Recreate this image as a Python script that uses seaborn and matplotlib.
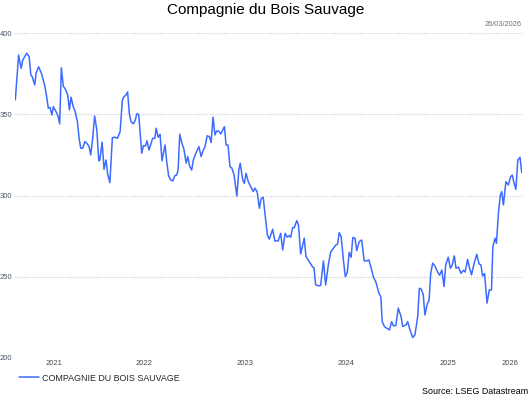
import pandas as pd
import numpy as np
import matplotlib.pyplot as plt
import matplotlib.dates as mdates
import seaborn as sns

# Données (jours depuis le 26/03/2021, cours)
START = "2021-03-26"
END = "2026-03-26"
jours = [0, 12, 21, 27, 41, 50, 56, 61, 70, 75, 84, 95, 107, 113, 119, 125, 132, 137, 147, 155,
         160, 166, 173, 182, 189, 195, 201, 209, 216, 224, 230, 236, 243, 251, 260, 266, 272, 279, 286, 294,
         301, 305, 313, 320, 327, 333, 341, 350, 360, 368, 378, 386, 392, 399, 405, 411, 417, 426, 432, 438,
         445, 450, 456, 462, 469, 475, 482, 489, 495, 503, 508, 515, 522, 529, 534, 540, 546, 553, 560, 568,
         575, 582, 587, 593, 600, 608, 616, 622, 629, 636, 642, 651, 662, 670, 678, 684, 692, 700, 706, 713,
         720, 726, 733, 741, 748, 754, 760, 767, 774, 781, 789, 795, 799, 806, 811, 820, 826, 832, 840, 849,
         858, 864, 872, 880, 886, 894, 900, 909, 916, 928, 936, 948, 957, 964, 973, 981, 988, 993, 1000, 1006,
         1015, 1021, 1029, 1042, 1048, 1063, 1072, 1077, 1083, 1093, 1101, 1111, 1119, 1129, 1137, 1147, 1156, 1162, 1168, 1175,
         1183, 1190, 1197, 1204, 1211, 1217, 1225, 1231, 1240, 1249, 1258, 1267, 1275, 1283, 1291, 1301, 1311, 1318, 1323, 1331,
         1339, 1349, 1357, 1363, 1372, 1381, 1391, 1397, 1409, 1415, 1423, 1433, 1441, 1451, 1457, 1464, 1471, 1477, 1486, 1492,
         1498, 1505, 1513, 1522, 1530, 1538, 1546, 1552, 1561, 1569, 1575, 1583, 1589, 1598, 1607, 1616, 1622, 1631, 1637, 1645,
         1654, 1664, 1672, 1679, 1685, 1692, 1701, 1709, 1717, 1722, 1730, 1735, 1742, 1749, 1754, 1760, 1769, 1778, 1786, 1792,
         1798, 1805, 1812, 1820, 1826]
cours = [359.0, 386.6, 378.4, 383.6, 387.7, 385.6, 374.3, 373.3, 368.2, 375.4, 379.4, 375.0, 367.1, 361.0, 353.8, 354.4, 349.7, 354.8, 351.7, 348.6,
         344.2, 378.8, 367.5, 365.1, 362.0, 352.8, 360.6, 354.8, 351.7, 345.6, 335.3, 329.2, 329.2, 333.3, 331.8, 330.2, 325.1, 335.3, 349.1, 340.5,
         321.4, 322.0, 333.0, 316.3, 322.0, 313.4, 308.0, 335.7, 336.0, 335.3, 339.4, 358.9, 361.0, 362.0, 363.9, 350.7, 345.6, 344.2, 346.2, 350.3,
         350.1, 339.4, 326.1, 330.8, 330.6, 333.7, 328.1, 331.8, 335.3, 335.3, 341.5, 336.0, 337.8, 321.4, 326.1, 331.2, 320.9, 312.1, 309.7, 309.1,
         312.3, 312.7, 315.8, 337.8, 332.7, 328.6, 320.0, 324.1, 317.9, 315.8, 322.0, 326.1, 330.2, 324.1, 328.1, 330.2, 336.9, 336.3, 332.7, 348.3,
         337.4, 339.8, 339.8, 338.0, 340.5, 342.5, 331.2, 331.2, 317.9, 316.9, 312.7, 304.6, 299.8, 315.8, 320.0, 309.7, 307.6, 313.8, 308.6, 305.5,
         302.5, 304.6, 302.5, 292.2, 298.0, 299.0, 289.2, 275.8, 273.2, 279.3, 272.1, 272.1, 276.8, 266.6, 276.8, 274.4, 275.4, 274.4, 280.3, 280.3,
         284.6, 282.0, 264.1, 273.8, 262.6, 258.5, 256.1, 255.5, 245.1, 244.4, 244.7, 259.8, 245.0, 257.7, 265.1, 267.6, 269.6, 270.2, 277.2, 274.8,
         260.4, 250.1, 252.6, 265.1, 262.1, 274.2, 273.8, 266.1, 271.7, 272.7, 259.8, 259.8, 260.4, 255.5, 250.1, 246.4, 239.9, 237.8, 222.4, 219.4,
         218.4, 217.3, 222.4, 219.9, 219.9, 230.7, 225.5, 219.4, 220.4, 222.4, 217.3, 212.6, 214.2, 225.5, 243.0, 242.4, 238.9, 226.5, 233.6, 235.5,
         252.2, 258.4, 256.7, 253.2, 251.0, 254.2, 244.0, 257.3, 262.1, 255.3, 257.0, 262.9, 255.3, 256.0, 252.2, 254.0, 253.0, 260.8, 256.0, 251.2,
         258.0, 263.9, 258.0, 257.3, 250.5, 252.0, 233.8, 241.9, 241.9, 268.5, 273.8, 270.7, 289.2, 300.4, 302.5, 294.3, 308.6, 306.6, 311.7, 312.7,
         308.0, 303.9, 322.0, 323.6, 314.2]
annees = [2021, 2022, 2023, 2024, 2025, 2026]
yticks = [200, 250, 300, 350, 400]
serie = "COMPAGNIE DU BOIS SAUVAGE"

df = pd.DataFrame({
    "date": pd.Timestamp(START) + pd.to_timedelta(jours, unit="D"),
    "cours": cours,
})

sns.set_style("white")
plt.rcParams['font.family'] = ['Liberation Sans', 'DejaVu Sans']

fig = plt.figure(figsize=(5.32, 3.97), dpi=100)
ax = fig.add_axes([15.3 / 532, 1 - 358 / 397, 506.4 / 532, (358 - 33.3) / 397])

sns.lineplot(data=df, x="date", y="cours", ax=ax, color="#3d6bff", linewidth=1.1, label=serie)

ax.set_xlim(pd.Timestamp(START), pd.Timestamp(END))
ax.set_ylim(200, 400)
ax.set_yticks(yticks)
ax.set_yticklabels([str(v) for v in yticks])
ax.grid(axis='y', color='#c8c8c8', linestyle=(0, (1, 1.5)), linewidth=0.8)
ax.grid(axis='x', visible=False)
for s in ax.spines.values():
    s.set_visible(False)

# étiquettes des années centrées sur la partie visible de chaque année
t0, t1 = pd.Timestamp(START), pd.Timestamp(END)
centres = []
for a in annees:
    d0 = max(pd.Timestamp(f"{a}-01-01"), t0)
    d1 = min(pd.Timestamp(f"{a + 1}-01-01"), t1)
    centres.append(d0 + (d1 - d0) / 2)
ax.set_xticks([mdates.date2num(c) for c in centres])
ax.set_xticklabels([str(a) for a in annees])
ax.tick_params(axis='x', length=0, pad=1.5, labelsize=5.5, labelcolor='#4a4a4a')
ax.tick_params(axis='y', length=0, pad=2, labelsize=5.5, labelcolor='#4a5468')
ax.set_xlabel("")
ax.set_ylabel("")

leg = ax.legend(loc='upper left', bbox_to_anchor=(0.0, -0.037), frameon=False,
                fontsize=6.4, handlelength=2.25, borderaxespad=0, handletextpad=0.4)

fig.text(0.5, 0.975, "Compagnie du Bois Sauvage", ha='center', va='center', fontsize=11, color='black')
fig.text(522 / 532, 1 - 24.3 / 397, "26/03/2026", ha='right', va='center', fontsize=5.3, color='#7a6a6a')
fig.text(528 / 532, 1 - 392 / 397, "Source: LSEG Datastream", ha='right', va='center', fontsize=6.4, color='black')

plt.savefig("out.png", dpi=100)
plt.close()
